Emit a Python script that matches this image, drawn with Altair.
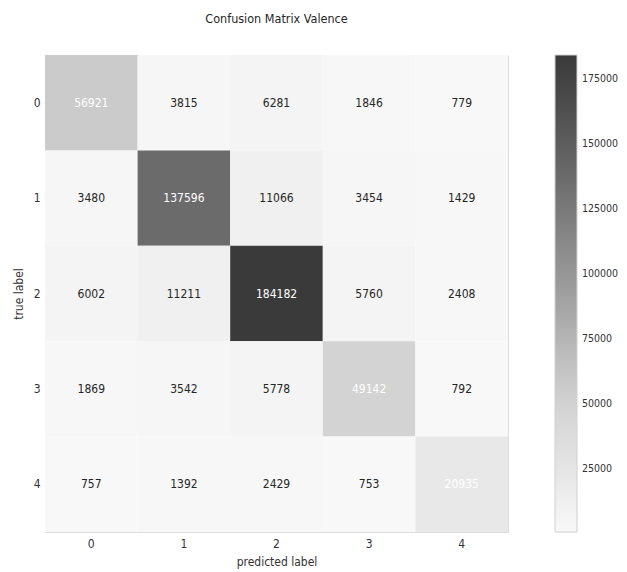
import altair as alt
import pandas as pd

labels = [0, 1, 2, 3, 4]
row0 = [56921, 3815, 6281, 1846, 779]
row1 = [3480, 137596, 11066, 3454, 1429]
row2 = [6002, 11211, 184182, 5760, 2408]
row3 = [1869, 3542, 5778, 49142, 792]
row4 = [757, 1392, 2429, 753, 20935]
rows = [row0, row1, row2, row3, row4]

color_stops = [753, 20935, 49142, 56921, 137596, 184182]
color_range = ["#f8f8f8", "#e8e8e8", "#d3d3d3", "#cbcbcb", "#6b6b6b", "#3a3a3a"]
legend_values = [25000, 50000, 75000, 100000, 125000, 150000, 175000]

recs = []
for t, r in zip(labels, rows):
    for p, v in zip(labels, r):
        recs.append({"t": t, "p": p, "v": v})
df = pd.DataFrame(recs)

FONT = "Liberation Sans Narrow, DejaVu Sans Condensed, Liberation Sans, Arial, sans-serif"

base = alt.Chart(df).encode(
    x=alt.X("p:O", title="predicted label",
            scale=alt.Scale(paddingInner=0, paddingOuter=0),
            axis=alt.Axis(labelAngle=0, ticks=False, domain=False, grid=False,
                          labelPadding=6, titlePadding=7, titleFontWeight="normal",
                          labelFont=FONT, titleFont=FONT, labelFontSize=12, titleFontSize=12,
                          labelColor="#333333", titleColor="#333333")),
    y=alt.Y("t:O", title="true label",
            scale=alt.Scale(paddingInner=0, paddingOuter=0),
            axis=alt.Axis(ticks=False, domain=False, grid=False,
                          labelPadding=5, titlePadding=8, titleFontWeight="normal",
                          labelFont=FONT, titleFont=FONT, labelFontSize=12, titleFontSize=12,
                          labelColor="#333333", titleColor="#333333")),
)

rects = base.mark_rect().encode(
    color=alt.Color("v:Q",
                    scale=alt.Scale(domain=color_stops, range=color_range),
                    legend=alt.Legend(title=None, orient="none", legendX=510, legendY=0,
                                      gradientLength=477, gradientThickness=22,
                                      gradientStrokeColor="#d0d0d0", gradientStrokeWidth=1,
                                      values=legend_values, format="d",
                                      labelFontSize=10.5, labelColor="#333333",
                                      labelFont=FONT, labelOffset=5, padding=0))
)

texts = base.mark_text(fontSize=12, font=FONT).encode(
    text=alt.Text("v:Q", format="d"),
    color=alt.condition("datum.t == datum.p", alt.value("#ffffff"), alt.value("#262626")),
)

chart = alt.layer(rects, texts).properties(
    width=463, height=477,
    title=alt.TitleParams("Confusion Matrix Valence", fontSize=12.5, font=FONT,
                          fontWeight="normal", color="#262626", offset=30),
    autosize=alt.AutoSizeParams(type="none"),
    padding={"left": 37, "top": 47, "right": 110, "bottom": 38},
).configure_view(stroke="#d0d0d0", strokeWidth=1).configure(background="white")

chart.save("out.html", embed_options={"renderer": "svg", "actions": False})
